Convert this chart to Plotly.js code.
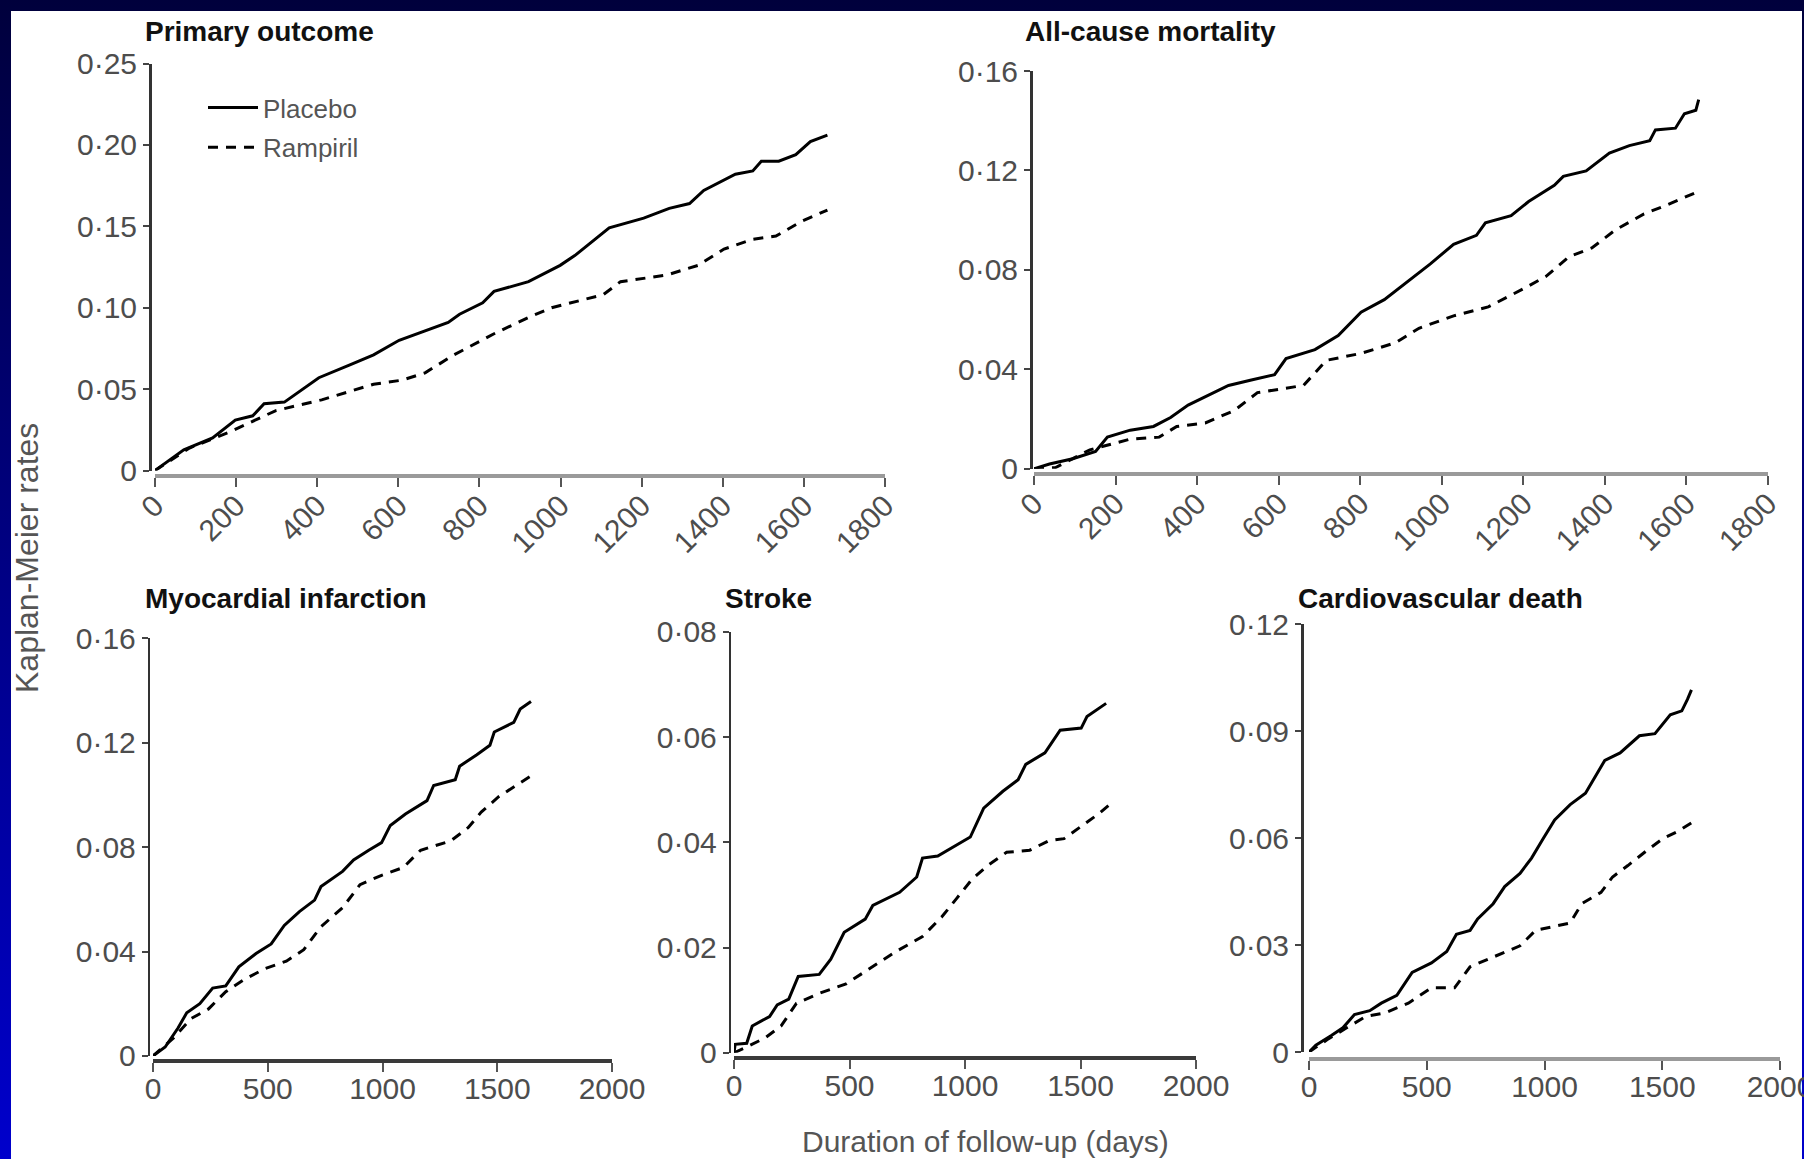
<!DOCTYPE html>
<html><head><meta charset="utf-8">
<script src="https://cdn.plot.ly/plotly-3.0.1.min.js"></script>
<style>
html,body{margin:0;padding:0;width:1804px;height:1159px;overflow:hidden;}
body{background:linear-gradient(to bottom,#00003c 0%,#000070 35%,#0000cc 100%);position:relative;}
#frame{position:absolute;left:11px;top:11px;width:1791px;height:1148px;background:#fff;}
#chart{position:absolute;left:0;top:0;width:1804px;height:1159px;}
</style></head><body><div id="frame"></div><div id="chart"></div>
<script>
// ---- Data ----
const panelTitles = ['Primary outcome','All-cause mortality','Myocardial infarction','Stroke','Cardiovascular death'];
const seriesNames = ['Placebo','Rampiril'];

const primaryPlaceboDays = [0,71,142,198,241,269,319,404,482,539,602,680,723,751,808,836,921,999,1035,1120,1205,1268,1318,1353,1431,1474,1495,1538,1580,1616,1658];
const primaryPlaceboRate = [0,0.0127,0.020,0.031,0.0336,0.041,0.042,0.057,0.065,0.071,0.080,0.087,0.091,0.096,0.103,0.110,0.116,0.126,0.132,0.149,0.155,0.161,0.164,0.172,0.182,0.184,0.190,0.190,0.194,0.202,0.206];
const primaryRampirilDays = [0,85,184,298,411,539,609,666,737,836,921,978,1105,1148,1261,1339,1403,1474,1531,1594,1658];
const primaryRampirilRate = [0,0.0138,0.0237,0.0368,0.0434,0.053,0.0555,0.060,0.071,0.084,0.094,0.100,0.108,0.116,0.120,0.126,0.136,0.142,0.144,0.153,0.160];

const mortPlaceboDays = [0,38,95,151,180,236,293,335,378,434,477,533,590,618,689,746,802,859,916,972,1029,1085,1107,1170,1213,1276,1298,1354,1411,1460,1510,1524,1573,1595,1623,1630];
const mortPlaceboRate = [0,0.0019,0.004,0.0069,0.0127,0.0155,0.017,0.0206,0.0256,0.030,0.0335,0.0357,0.0378,0.0443,0.0479,0.0536,0.063,0.068,0.0752,0.0824,0.0903,0.0939,0.0989,0.1018,0.1075,0.114,0.1176,0.1198,0.127,0.130,0.132,0.1363,0.137,0.1428,0.1442,0.1485];
const mortRampirilDays = [0,52,137,236,307,350,420,491,548,661,717,802,887,944,1029,1114,1199,1255,1312,1368,1425,1496,1552,1623];
const mortRampirilRate = [0,0.0004,0.0076,0.0119,0.0127,0.017,0.0184,0.0234,0.0306,0.0335,0.0436,0.0464,0.0507,0.0565,0.0615,0.0651,0.0723,0.0773,0.0853,0.0888,0.096,0.1025,0.1061,0.1111];

const miPlaceboDays = [0,53,109,147,204,260,317,374,449,515,572,638,704,732,826,874,940,996,1034,1100,1194,1223,1317,1336,1411,1468,1487,1572,1600,1647];
const miPlaceboRate = [0,0.0034,0.0107,0.0165,0.020,0.026,0.0268,0.0341,0.0392,0.0429,0.050,0.0553,0.0597,0.0649,0.0707,0.0751,0.0788,0.0817,0.0883,0.0927,0.0978,0.1036,0.1058,0.111,0.1154,0.119,0.1241,0.1278,0.1329,0.1358];
const miRampirilDays = [0,91,166,242,317,392,487,581,657,732,826,902,996,1091,1166,1298,1374,1430,1506,1581,1647];
const miRampirilRate = [0,0.007,0.0143,0.018,0.0246,0.029,0.0334,0.0363,0.0407,0.0495,0.0568,0.0656,0.0692,0.0722,0.0788,0.0824,0.0875,0.0934,0.0993,0.1036,0.1073];

const strokePlaceboDays = [0,5,55,79,154,187,237,278,369,419,477,568,601,717,791,816,882,982,1023,1081,1164,1230,1263,1346,1412,1503,1528,1611];
const strokePlaceboRate = [0,0.0016,0.0018,0.0051,0.0069,0.0091,0.0102,0.0145,0.0149,0.0178,0.0229,0.0254,0.028,0.0305,0.0334,0.037,0.0374,0.040,0.041,0.0465,0.0497,0.0519,0.0548,0.057,0.0613,0.0617,0.0639,0.0664];
const strokeRampirilDays = [0,55,137,204,270,369,485,601,700,816,899,965,1031,1098,1180,1280,1363,1429,1528,1578,1627];
const strokeRampirilRate = [0,0.0011,0.0029,0.0051,0.0094,0.0113,0.0131,0.0163,0.0192,0.0221,0.0258,0.0294,0.033,0.0356,0.0381,0.0385,0.0403,0.0407,0.0439,0.0454,0.0472];

const cvPlaceboDays = [0,29,95,144,193,258,307,373,438,520,585,626,684,716,782,831,896,945,994,1043,1109,1174,1256,1321,1403,1469,1534,1583,1607,1624];
const cvPlaceboRate = [0,0.0019,0.0046,0.0068,0.0105,0.0116,0.0137,0.0159,0.0223,0.025,0.0282,0.033,0.0341,0.0373,0.0416,0.0464,0.0501,0.0544,0.0598,0.0651,0.0694,0.0726,0.0818,0.0839,0.0887,0.0893,0.0946,0.0957,0.0989,0.1016];
const cvRampirilDays = [0,78,160,242,324,422,520,618,684,782,896,962,1109,1158,1240,1289,1354,1436,1501,1567,1632];
const cvRampirilRate = [0,0.0035,0.0068,0.01,0.011,0.0137,0.018,0.018,0.0239,0.0266,0.0298,0.0341,0.0362,0.0416,0.0448,0.0491,0.0523,0.0566,0.0598,0.0619,0.0646];

// tick values / labels
const topXTicks = [0,200,400,600,800,1000,1200,1400,1600,1800];
const topXLabels = ['0','200','400','600','800','1000','1200','1400','1600','1800'];
const bottomXTicks = [0,500,1000,1500,2000];
const bottomXLabels = ['0','500','1000','1500','2000'];
const primaryYTicks = [0,0.05,0.10,0.15,0.20,0.25];
const primaryYLabels = ['0','0·05','0·10','0·15','0·20','0·25'];
const mortYTicks = [0,0.04,0.08,0.12,0.16];
const mortYLabels = ['0','0·04','0·08','0·12','0·16'];
const miYTicks = [0,0.04,0.08,0.12,0.16];
const miYLabels = ['0','0·04','0·08','0·12','0·16'];
const strokeYTicks = [0,0.02,0.04,0.06,0.08];
const strokeYLabels = ['0','0·02','0·04','0·06','0·08'];
const cvYTicks = [0,0.03,0.06,0.09,0.12];
const cvYLabels = ['0','0·03','0·06','0·09','0·12'];

const xAxisTitle = 'Duration of follow-up (days)';
const yAxisTitle = 'Kaplan-Meier rates';

// ---- Layout helpers (pixel geometry of the 1804x1159 picture) ----
const W = 1804, H = 1159;
const px = v => v / W;
const py = v => 1 - v / H;
const FONT = 'Liberation Sans, Arial, sans-serif';
const TICKCOL = '#4d4d4d';

const panels = [
  {pd: primaryPlaceboDays, pr: primaryPlaceboRate, rd: primaryRampirilDays, rr: primaryRampirilRate,
   x0: 155, x1: 885, y0: 470.5, y1: 63.5, yl: 150, xl: 476, xr: [0,1800], yr: [0,0.25],
   xt: topXTicks, xtt: topXLabels, yt: primaryYTicks, ytt: primaryYLabels, ang: -45, xcol: '#9a9a9a',
   tx: 143, ty: 31, so: -11},
  {pd: mortPlaceboDays, pr: mortPlaceboRate, rd: mortRampirilDays, rr: mortRampirilRate,
   x0: 1034, x1: 1768, y0: 468.7, y1: 71, yl: 1031, xl: 474, xr: [0,1800], yr: [0,0.16],
   xt: topXTicks, xtt: topXLabels, yt: mortYTicks, ytt: mortYLabels, ang: -45, xcol: '#9a9a9a',
   tx: 1023, ty: 31, so: -11},
  {pd: miPlaceboDays, pr: miPlaceboRate, rd: miRampirilDays, rr: miRampirilRate,
   x0: 153, x1: 612, y0: 1055.9, y1: 638.3, yl: 148.8, xl: 1061, xr: [0,2000], yr: [0,0.16],
   xt: bottomXTicks, xtt: bottomXLabels, yt: miYTicks, ytt: miYLabels, ang: 0, xcol: '#3a3a3a',
   tx: 143, ty: 599, so: -9},
  {pd: strokePlaceboDays, pr: strokePlaceboRate, rd: strokeRampirilDays, rr: strokeRampirilRate,
   x0: 734, x1: 1196, y0: 1052.8, y1: 631.8, yl: 729.8, xl: 1057.7, xr: [0,2000], yr: [0,0.08],
   xt: bottomXTicks, xtt: bottomXLabels, yt: strokeYTicks, ytt: strokeYLabels, ang: 0, xcol: '#3a3a3a',
   tx: 723, ty: 599, so: -9},
  {pd: cvPlaceboDays, pr: cvPlaceboRate, rd: cvRampirilDays, rr: cvRampirilRate,
   x0: 1309, x1: 1780, y0: 1052, y1: 624.2, yl: 1302, xl: 1058.5, xr: [0,2000], yr: [0,0.12],
   xt: bottomXTicks, xtt: bottomXLabels, yt: cvYTicks, ytt: cvYLabels, ang: 0, xcol: '#9a9a9a',
   tx: 1296, ty: 599, so: -9}
];

const traces = [];
const layout = {
  width: W, height: H,
  margin: {l: 0, r: 0, t: 0, b: 0, pad: 0},
  paper_bgcolor: 'rgba(0,0,0,0)',
  plot_bgcolor: 'rgba(0,0,0,0)',
  font: {family: FONT, color: TICKCOL},
  showlegend: true,
  legend: {
    x: px(203), xanchor: 'left', y: py(84), yanchor: 'top',
    bgcolor: 'rgba(0,0,0,0)', borderwidth: 0,
    font: {family: FONT, size: 26, color: '#555'},
    itemwidth: 50, traceorder: 'grouped', tracegroupgap: 3
  },
  annotations: [],
  shapes: []
};

panels.forEach((p, i) => {
  const sfx = i === 0 ? '' : String(i + 1);
  const xa = 'x' + sfx, ya = 'y' + sfx;
  traces.push({
    x: p.pd, y: p.pr, xaxis: xa, yaxis: ya, type: 'scatter', mode: 'lines',
    name: seriesNames[0], legendgroup: 'g0', showlegend: i === 0,
    line: {color: '#000', width: 3}, hoverinfo: 'skip'
  });
  traces.push({
    x: p.rd, y: p.rr, xaxis: xa, yaxis: ya, type: 'scatter', mode: 'lines',
    name: seriesNames[1], legendgroup: 'g1', showlegend: i === 0,
    line: {color: '#000', width: 3, dash: '10px,8px'}, hoverinfo: 'skip'
  });
  layout['xaxis' + sfx] = {
    domain: [px(p.x0), px(p.x1)], range: p.xr, anchor: 'free', position: py(p.xl),
    showgrid: false, zeroline: false, showline: true, linecolor: p.xcol, linewidth: 4,
    ticks: 'outside', ticklen: 9, tickwidth: 2, tickcolor: '#555',
    tickmode: 'array', tickvals: p.xt, ticktext: p.xtt, tickangle: p.ang,
    ticklabelstandoff: p.so, ticklabeloverflow: 'allow',
    tickfont: {family: FONT, size: 30, color: TICKCOL}, fixedrange: true
  };
  layout['yaxis' + sfx] = {
    domain: [py(p.y0), py(p.y1)], range: p.yr, anchor: 'free', position: px(p.yl),
    showgrid: false, zeroline: false, showline: true, linecolor: '#333', linewidth: 2.5,
    ticks: 'outside', ticklen: 6, tickwidth: 2, tickcolor: '#444',
    tickmode: 'array', tickvals: p.yt, ticktext: p.ytt, ticklabeloverflow: 'allow',
    tickfont: {family: FONT, size: 30, color: TICKCOL}, fixedrange: true
  };
  layout.annotations.push({
    text: panelTitles[i], xref: 'paper', yref: 'paper', x: px(p.tx), y: py(p.ty),
    xanchor: 'left', yanchor: 'middle', showarrow: false,
    font: {family: FONT, size: 28, color: '#111', weight: 'bold'}
  });
});

layout.annotations.push({
  text: xAxisTitle, xref: 'paper', yref: 'paper', x: px(985), y: py(1141),
  xanchor: 'center', yanchor: 'middle', showarrow: false,
  font: {family: FONT, size: 30, color: '#555'}
});
layout.annotations.push({
  text: yAxisTitle, xref: 'paper', yref: 'paper', x: px(27), y: py(558),
  xanchor: 'center', yanchor: 'middle', showarrow: false, textangle: -90,
  font: {family: FONT, size: 32, color: '#555'}
});

Plotly.newPlot('chart', traces, layout, {staticPlot: true, displayModeBar: false});
</script>
</body></html>
